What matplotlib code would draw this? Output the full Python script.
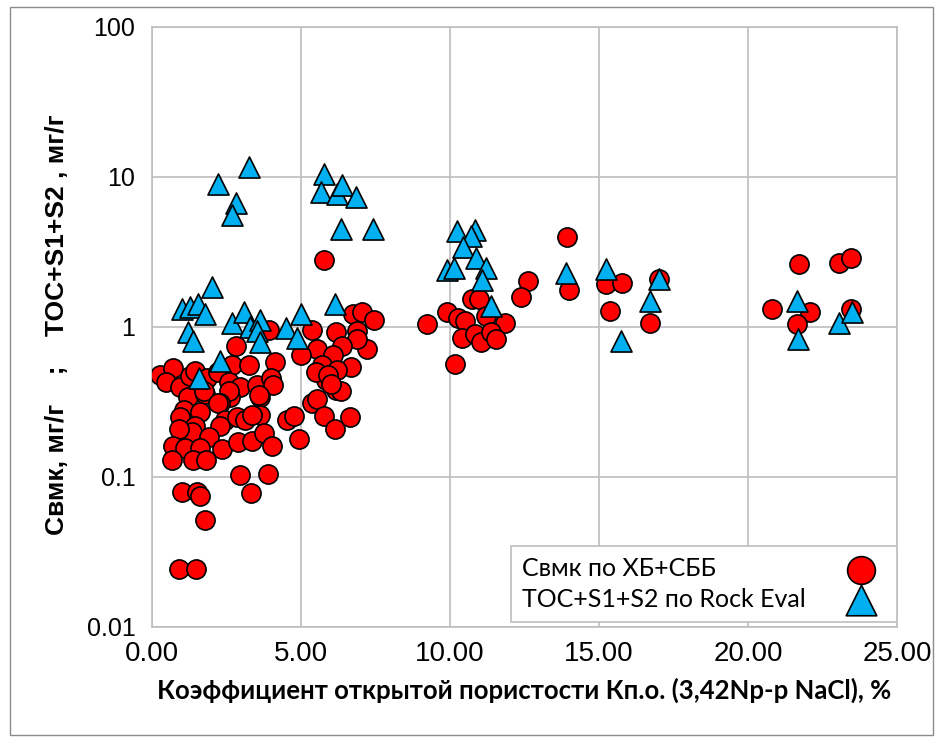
import matplotlib.pyplot as plt
import matplotlib.patches as patches
import numpy as np

# Свмк по ХБ+СББ (красные круги)
kp_svmk = [0.27, 0.72, 0.47, 0.94, 1.28, 1.67, 1.45, 1.84, 1.22, 1.79, 1.73, 2.23, 2.68, 3.25, 4.12,
           2.83, 3.92, 2.57, 2.94, 3.53, 3.98, 4.07, 2.61, 2.57, 2.29, 2.23, 3.64, 3.58, 1.06, 1.62,
           0.94, 1.45, 1.34, 0.89, 2.46, 2.29, 2.85, 3.13, 3.64, 3.36, 1.90, 2.35, 2.87, 3.36, 3.77,
           4.03, 0.72, 1.11, 1.62, 0.66, 1.37, 1.82, 4.54, 4.78, 4.93, 2.94, 3.90, 3.32, 1.02, 1.50,
           1.62, 1.79, 0.91, 1.47,
           6.73, 7.06, 7.45, 6.87, 6.17, 5.38, 7.21, 6.87, 6.39, 5.55, 5.01, 6.09, 5.72, 6.67, 6.22,
           5.83, 6.17, 6.33, 5.38, 5.55, 5.77, 6.63, 6.13, 5.50, 5.90, 6.00, 5.78,
           9.23, 9.91, 10.26, 10.49, 10.74, 10.96, 11.20, 11.84, 10.40, 10.85, 11.05, 11.36, 11.56,
           10.18, 12.62, 12.37, 13.91, 13.99, 15.24, 15.78, 15.37, 16.72, 17.03,
           21.70, 23.07, 23.46, 20.79, 22.08, 21.64, 23.46]
svmk = [0.48, 0.53, 0.43, 0.40, 0.47, 0.46, 0.51, 0.46, 0.34, 0.36, 0.375, 0.50, 0.56, 0.56, 0.58,
        0.75, 0.96, 0.43, 0.40, 0.41, 0.46, 0.41, 0.34, 0.375, 0.31, 0.31, 0.34, 0.35, 0.28, 0.27,
        0.25, 0.22, 0.20, 0.21, 0.24, 0.22, 0.25, 0.24, 0.26, 0.26, 0.185, 0.153, 0.17, 0.175, 0.195,
        0.16, 0.16, 0.155, 0.155, 0.13, 0.13, 0.13, 0.24, 0.255, 0.18, 0.103, 0.105, 0.078, 0.08, 0.079,
        0.075, 0.052, 0.0245, 0.0245,
        1.22, 1.25, 1.11, 0.94, 0.92, 0.95, 0.71, 0.83, 0.75, 0.71, 0.65, 0.65, 0.56, 0.54, 0.52,
        0.44, 0.38, 0.375, 0.31, 0.33, 0.255, 0.25, 0.21, 0.50, 0.48, 0.42, 2.8,
        1.05, 1.25, 1.15, 1.10, 1.53, 1.53, 1.18, 1.07, 0.84, 0.90, 0.79, 0.92, 0.83,
        0.57, 2.02, 1.58, 3.98, 1.76, 1.93, 1.97, 1.28, 1.06, 2.08,
        2.64, 2.68, 2.87, 1.31, 1.25, 1.04, 1.31]

# TOC+S1+S2 по Rock Eval (голубые треугольники)
kp_rock = [3.25, 2.20, 2.82, 2.67, 5.77, 5.66, 6.22, 6.39, 6.84, 6.33, 7.42, 2.00, 1.00, 1.28, 1.56,
           1.79, 1.22, 1.37, 2.68, 3.08, 3.30, 3.62, 3.53, 3.62, 4.51, 4.99, 6.14, 4.87, 2.29, 1.59,
           10.24, 10.83, 10.71, 10.43, 10.88, 9.91, 10.15, 11.22, 11.07, 11.36, 13.89, 15.23, 15.74,
           17.00, 16.72, 21.63, 21.67, 23.07, 23.48]
rock = [11.7, 9.0, 6.7, 5.6, 10.5, 8.0, 7.7, 8.9, 7.4, 4.5, 4.5, 1.85, 1.31, 1.35, 1.42,
        1.22, 0.92, 0.81, 1.07, 1.25, 1.0, 1.12, 0.94, 0.79, 0.99, 1.23, 1.42, 0.85, 0.59, 0.46,
        4.37, 4.4, 4.04, 3.4, 2.9, 2.39, 2.49, 2.46, 2.05, 1.38, 2.3, 2.42, 0.81,
        2.08, 1.49, 1.5, 0.83, 1.07, 1.25]

fig = plt.figure(figsize=(9.41, 7.42), dpi=100)
ax = fig.add_axes([152/941, 1-627/742, (897-152)/941, (627-27)/742])

# пробелы в конце — чтобы подписи в легенде шли от левого края
ax.scatter(kp_svmk, svmk, s=190, c='#FF0000', edgecolors='black', linewidths=1.2,
           label='Свмк по ХБ+СББ' + ' ' * 14, zorder=3)
ax.scatter(kp_rock, rock, marker='^', s=230, c='#00B0F0', edgecolors='black', linewidths=1.2,
           label='TOC+S1+S2 по Rock Eval', zorder=4)

ax.set_yscale('log')
ax.set_xlim(0, 25)
ax.set_ylim(0.01, 100)
ax.set_xticks(np.arange(0, 26, 5))
ax.set_xticklabels(['%.2f' % v for v in np.arange(0, 26, 5)])
ax.set_yticks([0.01, 0.1, 1, 10, 100])
ax.set_yticklabels(['0.01', '0.1', '1', '10', '100'])
ax.minorticks_off()
ax.tick_params(axis='both', length=0)
ax.tick_params(axis='y', pad=12, labelsize=18)
ax.tick_params(axis='x', pad=10, labelsize=20)
for lab in ax.get_xticklabels() + ax.get_yticklabels():
    lab.set_fontfamily('Liberation Sans')
ax.grid(True, color='#BEBEBE', linewidth=1.2)
ax.set_axisbelow(True)
for sp in ax.spines.values():
    sp.set_color('#BEBEBE')
    sp.set_linewidth(1.2)

ax.set_xlabel('Коэффициент открытой пористости Кп.о. (3,42Np-p NaCl), %',
              fontsize=18.5, fontweight='bold', family='Lato', labelpad=8)
fig.text(57/941, 1-325/742, 'Свмк, мг/г    ;    TOC+S1+S2 , мг/г', rotation=90,
         fontsize=19, fontweight='bold', family='Liberation Sans', ha='center', va='center')

leg = ax.legend(loc='lower right', bbox_to_anchor=(1.0, 0.008), markerfirst=False,
                prop={'family': 'Lato', 'size': 18}, markerscale=1.45,
                fancybox=False, framealpha=1, edgecolor='#BEBEBE', borderpad=0.45,
                labelspacing=0.3, handletextpad=1.2, borderaxespad=0)
leg.get_frame().set_linewidth(1.2)

fig.patches.append(patches.Rectangle((10/941, 1-735/742), 923/941, 728/742,
                                     transform=fig.transFigure, fill=False,
                                     edgecolor='#8C8C8C', linewidth=1.0))

plt.savefig('out.png', dpi=100)
